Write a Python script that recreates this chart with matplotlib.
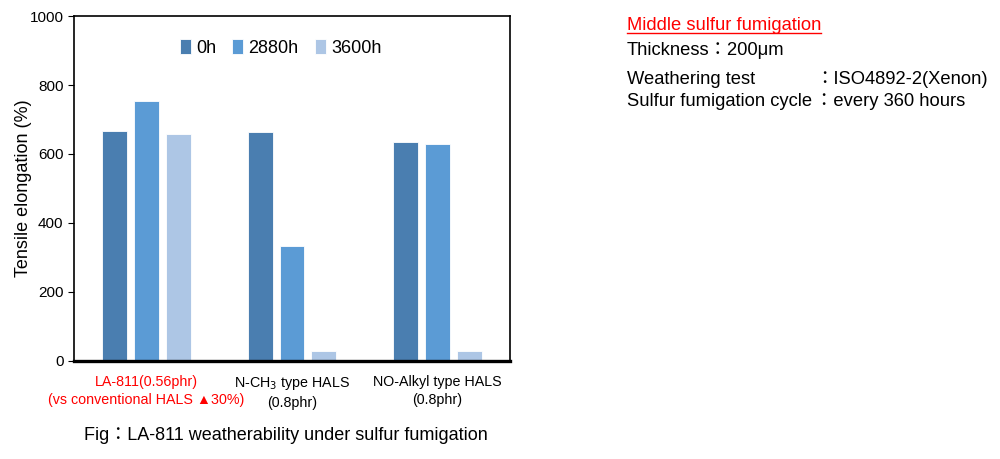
import numpy as np
import matplotlib.pyplot as plt

plt.rcParams['font.family'] = ['Liberation Sans', 'Noto Sans CJK JP', 'DejaVu Sans']

groups = ['LA-811(0.56phr)\n(vs conventional HALS \u25b230%)',
          'N-CH$_3$ type HALS\n(0.8phr)',
          'NO-Alkyl type HALS\n(0.8phr)']
series = ['0h', '2880h', '3600h']
vals_0h = [667, 663, 636]
vals_2880h = [754, 334, 628]
vals_3600h = [657, 29, 27]
colors = ['#4a7eb0', '#5b9bd5', '#adc6e5']

fig = plt.figure(figsize=(10, 4.59), dpi=100)
ax = fig.add_axes([0.074, 0.214, 0.436, 0.751])

x = np.arange(len(groups))
w = 0.172
step = 0.22
for i, (name, vals) in enumerate(zip(series, [vals_0h, vals_2880h, vals_3600h])):
    ax.bar(x + (i - 1) * step, vals, w, color=colors[i], label=name,
           edgecolor='white', linewidth=0.6)

ax.set_xlim(-0.5, 2.5)
ax.set_ylim(0, 1000)
ax.set_yticks(range(0, 1001, 200))
ax.tick_params(axis='y', labelsize=11, length=4, direction='out')
ax.set_xticks(x)
ax.set_xticklabels(groups, fontsize=10.3, linespacing=1.35)
ax.tick_params(axis='x', length=0, pad=10)
ax.get_xticklabels()[0].set_color('red')
ax.set_ylabel('Tensile elongation (%)', fontsize=13, labelpad=-2)
for s in ['top', 'right', 'left']:
    ax.spines[s].set_linewidth(1.2)
ax.spines['bottom'].set_linewidth(2.4)

ax.legend(loc='center', bbox_to_anchor=(0.474, 0.907), ncol=3, frameon=False,
          fontsize=13, handlelength=0.6, handleheight=0.9, handletextpad=0.3,
          columnspacing=0.9)

fig.text(0.286, 0.052, 'Fig\uff1aLA-811 weatherability under sulfur fumigation',
         fontsize=13, ha='center', va='center')

fs = 13.2
t = fig.text(0.627, 0.945, 'Middle sulfur fumigation', fontsize=fs,
             color='red', va='center')
fig.canvas.draw()
bb = t.get_window_extent().transformed(fig.transFigure.inverted())
fig.add_artist(plt.Line2D([bb.x0, bb.x1], [bb.y0 + 0.002, bb.y0 + 0.002],
                          transform=fig.transFigure, color='red', lw=1))
fig.text(0.627, 0.89, 'Thickness\uff1a200\u03bcm', fontsize=fs, va='center')
fig.text(0.627, 0.826, 'Weathering test', fontsize=fs, va='center')
fig.text(0.627, 0.779, 'Sulfur fumigation cycle', fontsize=fs, va='center')
fig.text(0.815, 0.826, '\uff1aISO4892-2(Xenon)', fontsize=fs, va='center')
fig.text(0.815, 0.779, '\uff1aevery 360 hours', fontsize=fs, va='center')

fig.savefig('out.png', dpi=100)
